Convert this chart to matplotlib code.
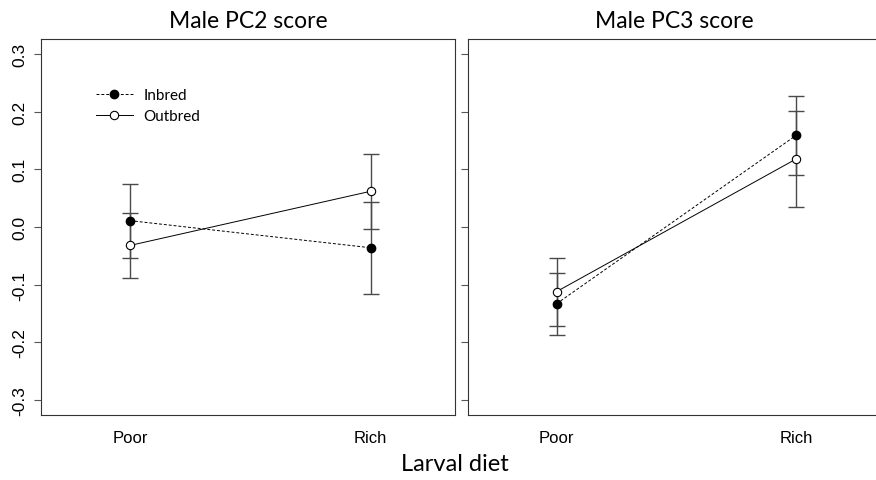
import matplotlib
matplotlib.use('Agg')
import matplotlib.pyplot as plt

# data
diets = ['Poor', 'Rich']
pc2_inbred = [0.011, -0.036]
pc2_inbred_se = [0.064, 0.080]
pc2_outbred = [-0.032, 0.062]
pc2_outbred_se = [0.057, 0.065]
pc3_inbred = [-0.133, 0.159]
pc3_inbred_se = [0.054, 0.069]
pc3_outbred = [-0.112, 0.118]
pc3_outbred_se = [0.059, 0.084]
yticks = [-0.3, -0.2, -0.1, 0.0, 0.1, 0.2, 0.3]

title_font = ['Lato', 'DejaVu Sans']
tick_font = ['Liberation Sans', 'DejaVu Sans']

fig = plt.figure(figsize=(8.76, 4.81), dpi=100)
ax1 = fig.add_axes([41 / 876, 65 / 481, 414 / 876, 376 / 481])
ax2 = fig.add_axes([468 / 876, 65 / 481, 412 / 876, 376 / 481])

x = [1, 2]


def draw_panel(ax, inb, inb_se, outb, outb_se, title, labels=True):
    ax.errorbar(x, inb, yerr=inb_se, fmt='none', ecolor='#4a4a4a',
                elinewidth=1.0, capsize=6, capthick=1.0, zorder=1)
    ax.errorbar(x, outb, yerr=outb_se, fmt='none', ecolor='#4a4a4a',
                elinewidth=1.0, capsize=6, capthick=1.0, zorder=1)
    ax.plot(x, inb, linestyle=(0, (3, 2)), color='black', linewidth=0.7,
            marker='o', markersize=6, markerfacecolor='black',
            markeredgecolor='black', label='Inbred', zorder=3)
    ax.plot(x, outb, linestyle='-', color='black', linewidth=0.7,
            marker='o', markersize=6, markerfacecolor='white',
            markeredgecolor='black', markeredgewidth=0.8,
            label='Outbred', zorder=3)
    ax.set_xlim(0.63, 2.35)
    ax.set_ylim(-0.326, 0.326)
    ax.set_yticks(yticks)
    if labels:
        ax.set_yticklabels([f'{v:.1f}' for v in yticks], rotation=90,
                           va='center', family=tick_font, fontsize=12.5)
    else:
        ax.set_yticklabels([])
    ax.tick_params(axis='y', length=5, width=0.8, color='#555555', pad=5)
    ax.set_xticks(x)
    ax.set_xticklabels(diets, family=tick_font, fontsize=12)
    ax.tick_params(axis='x', length=0, pad=10.5)
    for s in ax.spines.values():
        s.set_linewidth(0.8)
        s.set_color('#333333')
    ax.set_title(title, family=title_font, fontsize=16.5, pad=9)


draw_panel(ax1, pc2_inbred, pc2_inbred_se, pc2_outbred, pc2_outbred_se,
           'Male PC2 score')
draw_panel(ax2, pc3_inbred, pc3_inbred_se, pc3_outbred, pc3_outbred_se,
           'Male PC3 score', labels=False)

ax1.legend(loc='upper left', bbox_to_anchor=(0.10, 0.905), frameon=False,
           prop={'family': title_font, 'size': 11}, handlelength=2.4,
           handletextpad=0.7, labelspacing=0.45)

fig.text(455 / 876, 1 - 465 / 481, 'Larval diet', ha='center', va='center',
         family=title_font, fontsize=17)

fig.savefig('out.png', dpi=100)
